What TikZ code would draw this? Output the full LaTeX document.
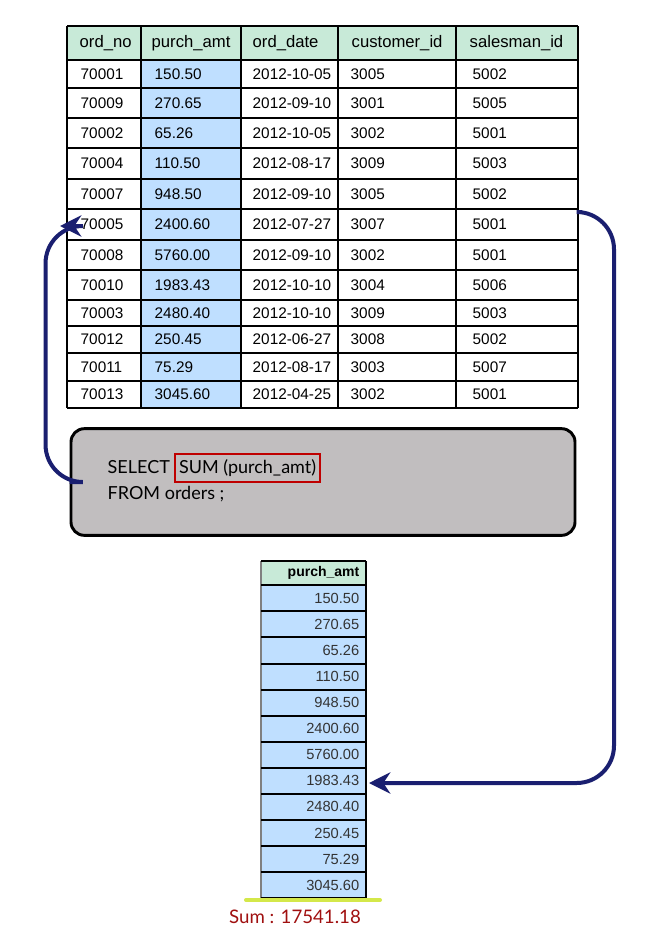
\documentclass[tikz,border=0pt]{standalone}
\usepackage{fontspec}
\setmainfont{Liberation Sans}
\newfontfamily\gillfont{Lato}
\usetikzlibrary{arrows.meta,positioning}
\definecolor{hdrgreen}{HTML}{C8EAD8}
\definecolor{amtblue}{HTML}{BFDFFF}
\definecolor{boxgrey}{HTML}{C1BEBF}
\definecolor{arrownavy}{HTML}{1A1F70}
\definecolor{sumred}{HTML}{A01010}
\definecolor{limeline}{HTML}{D4E84A}
\tikzset{
  cell/.style={anchor=west, font=\fontsize{11.5}{13}\selectfont},
  flow/.style={draw=arrownavy, line width=3pt, rounded corners=28pt, -{Stealth[length=16pt,width=16pt]}},
}
\begin{document}
\begin{tikzpicture}[x=0.75pt, y=-0.75pt]
    \useasboundingbox (0,0) rectangle (661,951);
    \fill[white] (0,0) rectangle (661,951);

    % Tabla principal
    \fill[hdrgreen] (67,26) rectangle (578,60);
    \fill[amtblue] (141,60) rectangle (241,408);
    \foreach \y in {26,60,88,118,148,179,209,240,270,300,326,353,381,408}
        \draw[line width=0.8pt] (67,\y) -- (578,\y);
    \foreach \x in {67,141,241,338,456,578}
        \draw[line width=0.8pt] (\x,26) -- (\x,408);
    \foreach \x/\t in {75/ord\_no,147/purch\_amt,248/ord\_date,347/customer\_id,465/salesman\_id}
        \node[anchor=west, font=\fontsize{12.5}{14}\selectfont] at (\x,43) {\t};
    \foreach \y/\a/\b/\c/\d/\e [count=\i] in {
        74/70001/150.50/2012-10-05/3005/5002,
        103/70009/270.65/2012-09-10/3001/5005,
        133/70002/65.26/2012-10-05/3002/5001,
        163.5/70004/110.50/2012-08-17/3009/5003,
        194/70007/948.50/2012-09-10/3005/5002,
        224.5/70005/2400.60/2012-07-27/3007/5001,
        255/70008/5760.00/2012-09-10/3002/5001,
        285/70010/1983.43/2012-10-10/3004/5006,
        313/70003/2480.40/2012-10-10/3009/5003,
        339.5/70012/250.45/2012-06-27/3008/5002,
        367/70011/75.29/2012-08-17/3003/5007,
        394.5/70013/3045.60/2012-04-25/3002/5001} {
        \node[cell] (no\i) at (76,\y) {\a};
        \node[cell] at (150,\y) {\b};
        \node[cell] at (248,\y) {\c};
        \node[cell] at (346,\y) {\d};
        \node[cell] at (468,\y) {\e};
    }
    \coordinate (rowin) at (60,226);
    \coordinate (rowout) at (582,212);

    % Consulta
    \node[draw=black, line width=2.2pt, fill=boxgrey, rounded corners=10pt,
          minimum width=378pt, minimum height=80pt] (query) at (323,482) {};
    \node[anchor=west, font=\gillfont\fontsize{13.5}{19.5}\selectfont, align=left] (sqltext) at (103,481)
        {SELECT \phantom{SUM (purch\_amt)}\\FROM orders ;};
    \node[draw=red!75!black, line width=1.5pt, inner sep=3pt, minimum height=21pt,
          font=\gillfont\fontsize{13.5}{16}\selectfont, anchor=west] (sumfn) at (174,468) {SUM (purch\_amt)};

    % Tabla resultado
    \fill[hdrgreen] (261,561) rectangle (366,585);
    \fill[amtblue] (261,585) rectangle (366,898);
    \draw[gray, line width=0.8pt] (261,561) -- (261,898);
    \draw[line width=0.8pt] (366,561) -- (366,898);
    \foreach \y in {561,585,611,637,664,690,716,742,768,794,820,846,872,898}
        \draw[line width=0.8pt] (261,\y) -- (366,\y);
    \node[anchor=east, font=\bfseries\fontsize{10.5}{12}\selectfont] (amthdr) at (364,573) {purch\_amt};
    \foreach \v [count=\i] in {150.50,270.65,65.26,110.50,948.50,2400.60,5760.00,1983.43,2480.40,250.45,75.29,3045.60}
        \node[anchor=east, font=\fontsize{11}{13}\selectfont, text=black!80] (amt\i) at (364,585+26.1*\i-13) {\v};
    \coordinate (amtin) at (369,783);
    \draw[limeline, line width=3pt, line cap=round] (246,900) -- (380,900);
    \node[text=sumred, font=\gillfont\fontsize{14}{16}\selectfont] (total) at (295,917) {Sum : 17541.18};

    % Flechas
    \draw[flow] (query.west) -- ++(-24,0) |- (rowin);
    \draw[flow] (rowout) -- ++(32,0) |- (amtin);
\end{tikzpicture}
\end{document}
